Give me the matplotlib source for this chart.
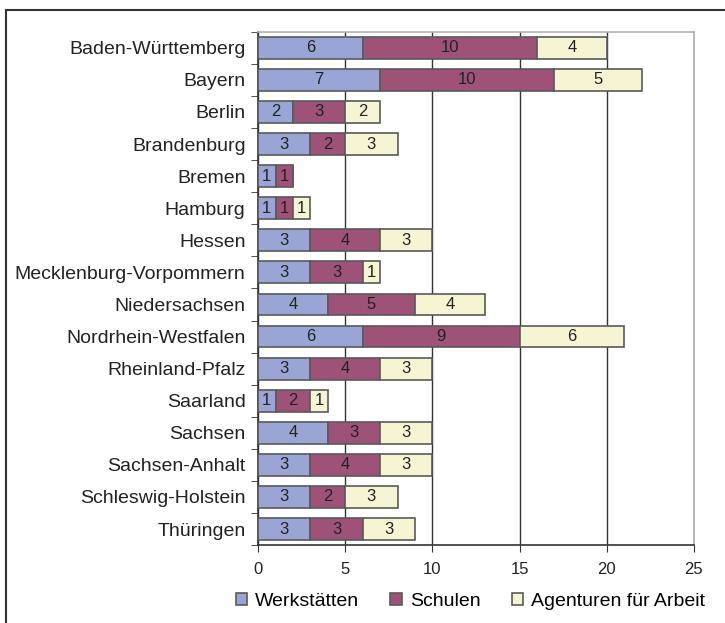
import numpy as np
import matplotlib
matplotlib.use("Agg")
import matplotlib.pyplot as plt
from matplotlib.lines import Line2D

plt.rcParams["font.family"] = ["Liberation Sans", "DejaVu Sans"]

# Daten
laender = ["Baden-Württemberg", "Bayern", "Berlin", "Brandenburg", "Bremen",
           "Hamburg", "Hessen", "Mecklenburg-Vorpommern", "Niedersachsen",
           "Nordrhein-Westfalen", "Rheinland-Pfalz", "Saarland", "Sachsen",
           "Sachsen-Anhalt", "Schleswig-Holstein", "Thüringen"]
werkstaetten = [6, 7, 2, 3, 1, 1, 3, 3, 4, 6, 3, 1, 4, 3, 3, 3]
schulen = [10, 10, 3, 2, 1, 1, 4, 3, 5, 9, 4, 2, 3, 4, 2, 3]
agenturen = [4, 5, 2, 3, 0, 1, 3, 1, 4, 6, 3, 1, 3, 3, 3, 3]
reihen = ["Werkstätten", "Schulen", "Agenturen für Arbeit"]
farben = ["#9aa5d6", "#9e5277", "#f5f4d3"]

fig = plt.figure(figsize=(7.25, 6.23), dpi=100)
ax = fig.add_axes([0.356, 0.125, 0.601, 0.824])

y = np.arange(len(laender))
links = np.zeros(len(laender))
for name, werte, farbe in zip(reihen, [werkstaetten, schulen, agenturen], farben):
    werte = np.array(werte)
    bars = ax.barh(y, werte, left=links, height=0.68, color=farbe,
                   edgecolor="#5a5a5a", linewidth=1.2, label=name, zorder=3)
    for b, v, l in zip(bars, werte, links):
        if v > 0:
            ax.text(l + v / 2, b.get_y() + b.get_height() / 2, str(v),
                    ha="center", va="center", fontsize=12, color="#222222", zorder=4)
    links += werte

ax.set_ylim(len(laender) - 0.5, -0.5)
ax.set_xlim(0, 25)
ax.set_xticks([0, 5, 10, 15, 20, 25])
ax.set_yticks(y)
ax.set_yticklabels(laender, fontsize=14, color="#222222")
ax.tick_params(axis="y", length=0, pad=9)
ax.set_yticks(np.arange(len(laender) + 1) - 0.5, minor=True)
ax.tick_params(axis="y", which="minor", length=5, color="#333333")
ax.tick_params(axis="x", length=5, pad=7, color="#333333", labelsize=12, labelcolor="#222222")
ax.grid(axis="x", color="#333333", linewidth=1.0, zorder=0)
for s in ["left", "bottom"]:
    ax.spines[s].set_color("#333333")
    ax.spines[s].set_linewidth(1.2)
for s in ["top", "right"]:
    ax.spines[s].set_color("#b0b0b0")
    ax.spines[s].set_linewidth(1.2)

ax.legend(loc="center", bbox_to_anchor=(0.487, -0.11), ncol=3, frameon=False,
          fontsize=14, handlelength=0.6, handleheight=0.6, handletextpad=0.4,
          columnspacing=1.6)

# Rahmen links und oben
fig.add_artist(Line2D([0.0083, 0.0083], [0, 0.984], color="#333333", lw=1.5))
fig.add_artist(Line2D([0.0083, 1.0], [0.984, 0.984], color="#333333", lw=1.5))

fig.savefig("out.png", dpi=100)
